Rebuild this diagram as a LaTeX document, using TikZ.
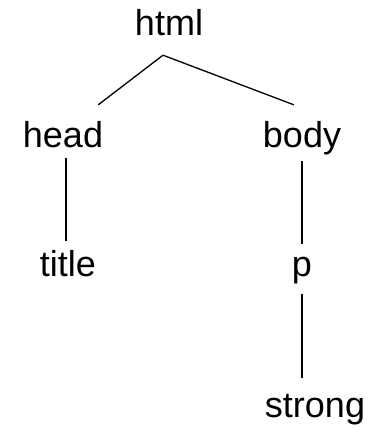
\documentclass[tikz,border=0pt]{standalone}
\usepackage{fontspec}
\setmainfont{Liberation Sans}

\begin{document}
\begin{tikzpicture}[x=1pt,y=1pt,
    tag/.style={anchor=base,inner sep=0pt,text height=26pt,text depth=7pt,
                font=\fontsize{36}{40}\selectfont},
    branch/.style={line width=1.3pt}]
  \useasboundingbox (0,0) rectangle (382,428);

  \node [tag] (html) at (169,392) {html};
  \node [tag] (head) at (63,280) {head};
  \node [tag] (body) at (302,280) {body};
  \node [tag] (title) at (68,151) {title};
  \node [tag] (p) at (302,151) {p};
  \node [tag] (strong) at (315,10) {strong};

  \draw [branch] ([xshift=-6pt,yshift=-12pt]html.south) -- ([xshift=-5pt,yshift=17pt]head.north east);
  \draw [branch] ([xshift=-6pt,yshift=-12pt]html.south) -- ([xshift=31pt,yshift=17pt]body.north west);
  \draw [branch] ([xshift=3pt,yshift=-3pt]head.south) -- ([xshift=-2pt,yshift=10pt]title.north);
  \draw [branch] ([yshift=-6pt]body.south) -- ([yshift=7pt]p.north);
  \draw [branch] ([yshift=-10pt]p.south) -- ([xshift=-13pt,yshift=14pt]strong.north);
\end{tikzpicture}
\end{document}
